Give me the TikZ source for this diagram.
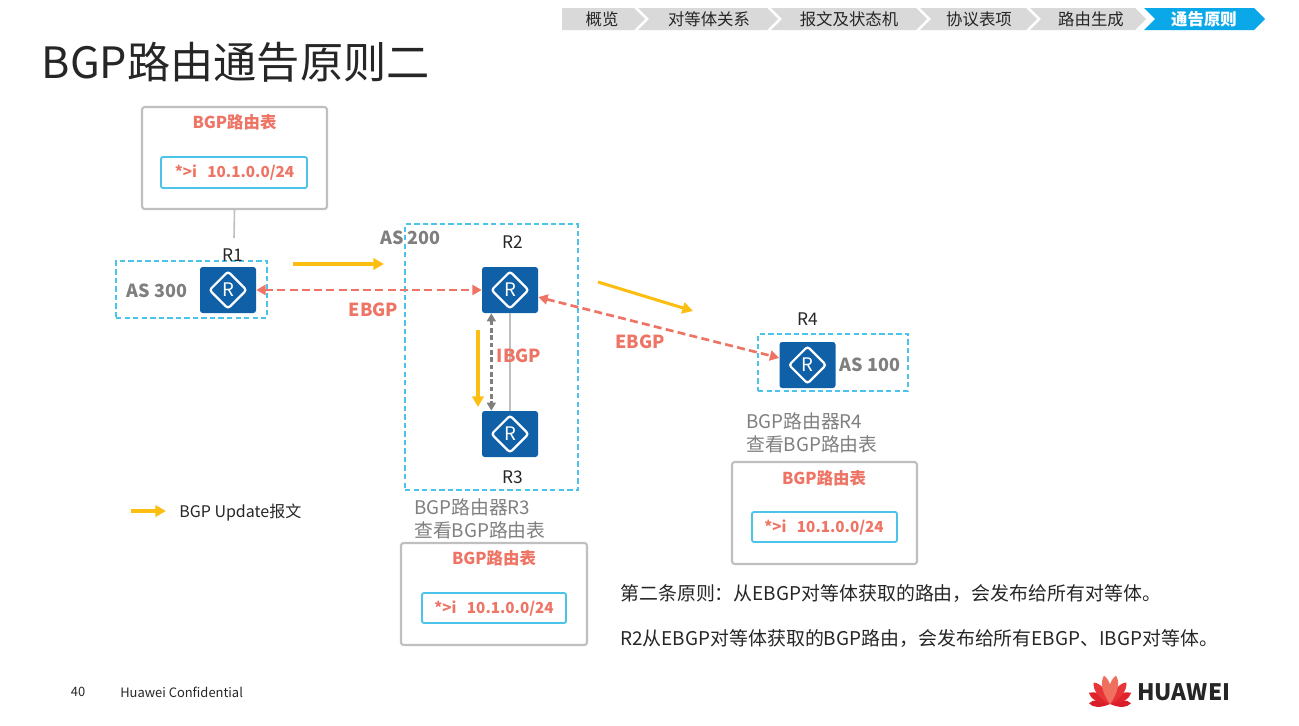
\documentclass[tikz,border=0pt]{standalone}
\usepackage{fontspec}
\setmainfont{Noto Sans CJK SC}
\usetikzlibrary{arrows.meta}
\definecolor{hwblue}{HTML}{1060A8}
\definecolor{hwcyan}{HTML}{4CC4EA}
\definecolor{hwsalmon}{HTML}{EE7465}
\definecolor{hwgold}{HTML}{FDBE12}
\definecolor{hwgray}{HTML}{BFBFBF}
\definecolor{hwtext}{HTML}{7F7F7F}
\definecolor{hwband}{HTML}{D9D9D9}
\definecolor{hwactive}{HTML}{0AA8E8}
\definecolor{hwdark}{HTML}{262626}
\newcommand{\fsz}[2]{\fontsize{#1}{#2}\selectfont}
\tikzset{
  x=0.75pt,y=-0.75pt,
  router/.style={rectangle,rounded corners=2pt,fill=hwblue,minimum width=42pt,minimum height=34.5pt,inner sep=0pt,
    text=white,font=\fsz{14}{16},
    path picture={\draw[white,line width=1.7pt,line join=miter]
      ([xshift=-13.8pt]path picture bounding box.center) -- ([yshift=13.8pt]path picture bounding box.center) --
      ([xshift=13.8pt]path picture bounding box.center) -- ([yshift=-13.8pt]path picture bounding box.center) -- cycle;}},
  rname/.style={font=\fsz{13}{15},text=hwdark,inner sep=0pt},
  asbox/.style={draw=hwcyan,line width=1.3pt,dash pattern=on 4pt off 2.4pt},
  aslabel/.style={font=\fsz{13.5}{16}\bfseries,text=hwtext,inner sep=0pt},
  proto/.style={font=\fsz{13.5}{16}\bfseries,text=hwsalmon,inner sep=0pt},
  tablebox/.style={draw=hwgray,line width=1.6pt,rounded corners=2pt,fill=white},
  entrybox/.style={draw=hwcyan,line width=1.4pt,rounded corners=1.5pt,fill=white},
  tabletitle/.style={font=\fsz{12.3}{15}\bfseries,text=hwsalmon,inner sep=0pt},
  entrytext/.style={font=\fsz{11.4}{15}\bfseries,text=hwsalmon,inner sep=0pt},
  update/.style={draw=hwgold,line width=2.3pt,-{Triangle[length=8pt,width=8.5pt]}},
  ebgp/.style={draw=hwsalmon,line width=2pt,dash pattern=on 6pt off 3.2pt,{Triangle[length=7pt,width=7.5pt]}-{Triangle[length=7pt,width=7.5pt]}},
  ibgp/.style={draw=hwtext,line width=1.9pt,dash pattern=on 3.5pt off 2pt,{Triangle[length=6pt,width=6.5pt]}-{Triangle[length=6pt,width=6.5pt]}},
  link/.style={draw=hwgray,line width=1.2pt},
  graytext/.style={font=\fsz{14.1}{17.3},text=hwtext,inner sep=0pt,anchor=west,align=left},
  bodytext/.style={font=\fsz{14.2}{17},text=hwdark,inner sep=0pt,anchor=west},
  crumb/.style={font=\fsz{12.3}{15},text=hwdark,inner sep=0pt},
}
\begin{document}
\begin{tikzpicture}
\useasboundingbox (0,0) rectangle (1299,725);
% breadcrumb
\fill[hwband] (562,8) -- (634,8) -- (645,19) -- (634,30) -- (562,30) -- cycle;
\fill[hwband] (638,8) -- (767,8) -- (778,19) -- (767,30) -- (638,30) -- (649,19) -- cycle;
\fill[hwband] (771,8) -- (916,8) -- (927,19) -- (916,30) -- (771,30) -- (782,19) -- cycle;
\fill[hwband] (920,8) -- (1026,8) -- (1037,19) -- (1026,30) -- (920,30) -- (931,19) -- cycle;
\fill[hwband] (1030,8) -- (1135,8) -- (1146,19) -- (1135,30) -- (1030,30) -- (1041,19) -- cycle;
\fill[hwactive] (1144,8) -- (1254,8) -- (1265,19) -- (1254,30) -- (1144,30) -- (1155,19) -- cycle;
\node[crumb] (c1) at (602,19) {概览};
\node[crumb] (c2) at (709,19) {对等体关系};
\node[crumb] (c3) at (849,19) {报文及状态机};
\node[crumb] (c4) at (979,19) {协议表项};
\node[crumb] (c5) at (1091,19) {路由生成};
\node[crumb,text=white,font=\fsz{12.3}{15}\bfseries] (c6) at (1204,19) {通告原则};
% title
\node[font=\fsz{32.4}{38},text=hwdark,inner sep=0pt,anchor=west] (title) at (41.5,62) {BGP路由通告原则二};
% AS boxes
\node[asbox,minimum width=113.2pt,minimum height=42.7pt,inner sep=0pt] (as300) at (191.5,289.5) {};
\node[asbox,minimum width=129.7pt,minimum height=199.5pt,inner sep=0pt] (as200) at (491.5,357) {};
\node[asbox,minimum width=112.5pt,minimum height=42.7pt,inner sep=0pt] (as100) at (833,362.5) {};
\node[aslabel] (l300) at (157,291) {AS 300};
\node[aslabel] (l200) at (410.5,238) {AS 200};
\node[aslabel] (l100) at (870,365) {AS 100};
% routing tables
\node[tablebox,minimum width=138.7pt,minimum height=76.5pt,inner sep=0pt] (t1) at (234.5,158) {};
\node[entrybox,minimum width=109.5pt,minimum height=23.2pt,inner sep=0pt] (e1) at (234,172.5) {};
\node[tabletitle] (tt1) at (234.5,122.5) {BGP路由表};
\node[entrytext] (et1) at (234.5,173) {*>i\ \ \ 10.1.0.0/24};
\node[tablebox,minimum width=139.5pt,minimum height=76.5pt,inner sep=0pt] (t3) at (494,594) {};
\node[entrybox,minimum width=108pt,minimum height=22.5pt,inner sep=0pt] (e3) at (494,608) {};
\node[tabletitle] (tt3) at (494,558.5) {BGP路由表};
\node[entrytext] (et3) at (494,608.5) {*>i\ \ \ 10.1.0.0/24};
\node[tablebox,minimum width=138.7pt,minimum height=76.5pt,inner sep=0pt] (t4) at (824.5,513) {};
\node[entrybox,minimum width=108.7pt,minimum height=22.5pt,inner sep=0pt] (e4) at (824.5,527) {};
\node[tabletitle] (tt4) at (824,478.5) {BGP路由表};
\node[entrytext] (et4) at (824,527.5) {*>i\ \ \ 10.1.0.0/24};
% routers
\node[router] (r1) at (228,290) {R};
\node[router] (r2) at (510,290) {R};
\node[router] (r3) at (510,434) {R};
\node[router] (r4) at (807.5,365) {R};
\node[rname] (n1) at (233,255) {R1};
\node[rname] (n2) at (513,242.5) {R2};
\node[rname] (n3) at (513,477.5) {R3};
\node[rname] (n4) at (808,319.5) {R4};
% connectors
\coordinate (stub) at (234,238);
\draw[link] (t1.south) -- (stub);
\draw[link] (r2) -- (r3);
\draw[ebgp] (r1) -- (r2);
\draw[ebgp] (r2) -- (r4);
\coordinate (ib1) at ([xshift=-14pt]r2.south);
\coordinate (ib2) at ([xshift=-14pt]r3.north);
\draw[ibgp] (ib1) -- (ib2);
% update arrows
\coordinate (u1a) at (293,264); \coordinate (u1b) at (384,264);
\coordinate (u2a) at (598,282); \coordinate (u2b) at (693,311);
\coordinate (u3a) at (478,330); \coordinate (u3b) at (478,407);
\coordinate (u4a) at (131,511); \coordinate (u4b) at (166,511);
\draw[update] (u1a) -- (u1b);
\draw[update] (u2a) -- (u2b);
\draw[update] (u3a) -- (u3b);
\draw[update] (u4a) -- (u4b);
% labels
\node[proto] (p1) at (373.5,309.5) {EBGP};
\node[proto] (p2) at (640,341.5) {EBGP};
\node[proto] (p3) at (519,355.5) {IBGP};
\node[font=\fsz{12}{15},text=hwdark,inner sep=0pt,anchor=west] (legend) at (179,512.5) {BGP Update报文};
\node[graytext] (g3) at (414,518.5) {BGP路由器R3\\查看BGP路由表};
\node[graytext] (g4) at (746,432.5) {BGP路由器R4\\查看BGP路由表};
\node[bodytext] (b1) at (620,594) {第二条原则：从EBGP对等体获取的路由，会发布给所有对等体。};
\node[bodytext] (b2) at (620,639) {R2从EBGP对等体获取的BGP路由，会发布给所有EBGP、IBGP对等体。};
% footer
\node[font=\fsz{9.7}{12},text=hwdark,inner sep=0pt] (pg) at (78,692) {40};
\node[font=\fsz{9.7}{12},text=hwdark,inner sep=0pt,anchor=west] (conf) at (120,692) {Huawei Confidential};
% logo
\foreach \a/\len/\wid/\col in {-88/21/4.5/D81E2A,88/21/4.5/D81E2A,-62/24/5/E0242C,62/24/5/E0242C,-37/27/5.5/E8353A,37/27/5.5/E8353A,-12/29/5.5/F0705F,12/29/5.5/F0705F}{
  \definecolor{pc}{HTML}{\col}
  \fill[pc,shift={(1110,704)},rotate=\a] (0,0) .. controls (-\wid,-0.45*\len) and (-\wid,-0.8*\len) .. (0,-\len) .. controls (\wid,-0.8*\len) and (\wid,-0.45*\len) .. (0,0) -- cycle;
}
\node[font=\fsz{17}{20}\bfseries,text=hwdark,inner sep=0pt,anchor=west] (hw) at (1137,692) {HUAWEI};
\end{tikzpicture}
\end{document}
